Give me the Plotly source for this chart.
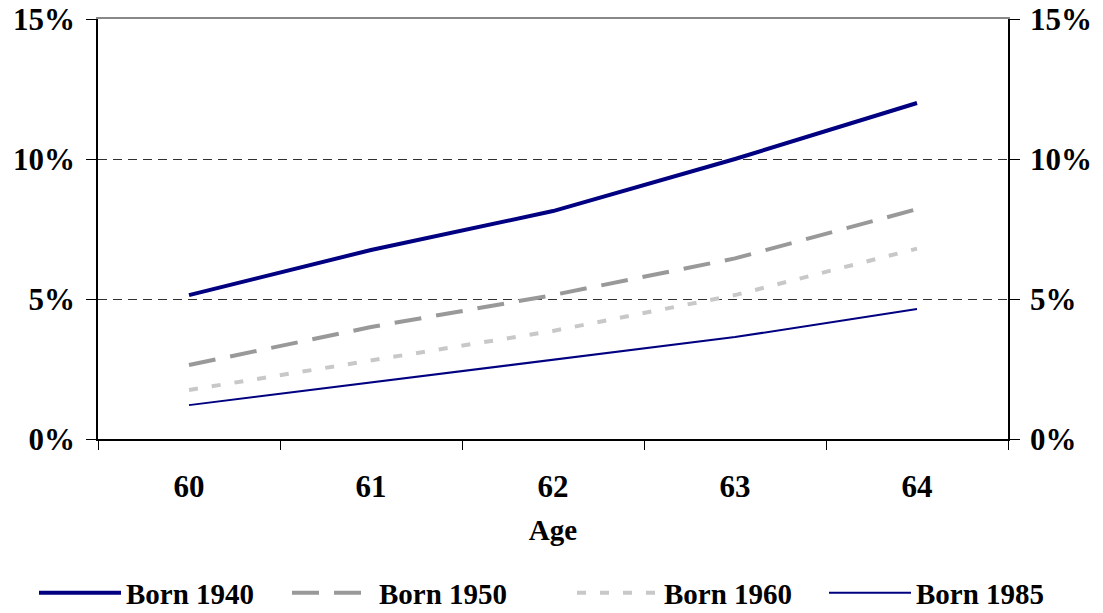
import plotly.graph_objects as go

ages = ["60", "61", "62", "63", "64"]
born_1940 = [0.0514, 0.0675, 0.0814, 0.1000, 0.1200]
born_1950 = [0.0264, 0.0400, 0.0514, 0.0645, 0.0821]
born_1960 = [0.0175, 0.0280, 0.0386, 0.0514, 0.0680]
born_1985 = [0.0121, 0.0202, 0.0282, 0.0364, 0.0464]
y_ticks = [0, 0.05, 0.10, 0.15]
y_tick_labels = ["0%", "5%", "10%", "15%"]
y_range = [0, 0.15 + 1e-7]

W, H = 1103, 613
FAMILY = "Liberation Serif, Times New Roman, serif"
FONT = dict(family=FAMILY, size=29, color="black", weight="bold")
TICKFONT = dict(family=FAMILY, size=31, color="black", weight="bold")

series = [
    ("Born 1940", born_1940, dict(color="#000080", width=4), "legend"),
    ("Born 1950", born_1950, dict(color="#999999", width=4, dash="27px,15px"), "legend2"),
    ("Born 1960", born_1960, dict(color="#c8c8c8", width=4, dash="9px,14px"), "legend3"),
    ("Born 1985", born_1985, dict(color="#000080", width=2), "legend4"),
]
legend_x_px = [34, 287, 572, 824]

fig = go.Figure()
for name, vals, line, lg in series:
    fig.add_trace(go.Scatter(x=ages, y=vals, name=name, mode="lines", line=line, legend=lg))

# invisible trace to activate right and top axes
fig.add_trace(go.Scatter(x=ages, y=born_1940, xaxis="x2", yaxis="y2", mode="lines",
                         line=dict(width=0), showlegend=False, hoverinfo="skip",
                         opacity=0))

legends = {}
for key, px in zip(["legend", "legend2", "legend3", "legend4"], legend_x_px):
    legends[key] = dict(orientation="h", x=px / W, xanchor="left", xref="container",
                        y=0.0326, yanchor="middle", yref="container",
                        font=FONT, itemwidth=82, bgcolor="rgba(0,0,0,0)")

fig.update_layout(
    width=W, height=H,
    margin=dict(l=98, r=95, t=19, b=174, autoexpand=False),
    paper_bgcolor="white", plot_bgcolor="white",
    font=FONT,
    showlegend=True,
    **legends,
    xaxis=dict(
        type="category", range=[-0.5, 4.5], automargin=False,
        tickson="boundaries", ticks="outside", ticklen=9, tickcolor="black",
        showline=True, linecolor="black", linewidth=1.5,
        showgrid=False, zeroline=False,
        tickfont=TICKFONT, ticklabelstandoff=19,
        title=dict(text="Age", font=FONT, standoff=17),
    ),
    xaxis2=dict(
        type="category", range=[-0.5, 4.5], automargin=False,
        overlaying="x", side="top", showticklabels=False, ticks="",
        showline=True, linecolor="#888888", linewidth=2,
        showgrid=False, zeroline=False,
    ),
    yaxis=dict(
        range=y_range, tickvals=y_ticks, ticktext=y_tick_labels, automargin=False,
        ticks="outside", ticklen=10, tickcolor="black",
        showline=True, linecolor="black", linewidth=1.5,
        showgrid=True, gridcolor="#303030", gridwidth=1, griddash="9px,6px",
        zeroline=False, tickfont=TICKFONT, ticklabelstandoff=5,
        ticklabeloverflow="allow",
    ),
    yaxis2=dict(
        range=y_range, tickvals=y_ticks, ticktext=y_tick_labels, automargin=False,
        overlaying="y", side="right",
        ticks="outside", ticklen=10, tickcolor="black",
        showline=True, linecolor="black", linewidth=1.5,
        showgrid=False, zeroline=False, tickfont=TICKFONT, ticklabelstandoff=4,
        ticklabeloverflow="allow",
    ),
)

fig.write_html(
    "out.html",
    config={"displayModeBar": False},
    post_script="document.body.style.margin='0';document.body.style.overflow='hidden';",
)
